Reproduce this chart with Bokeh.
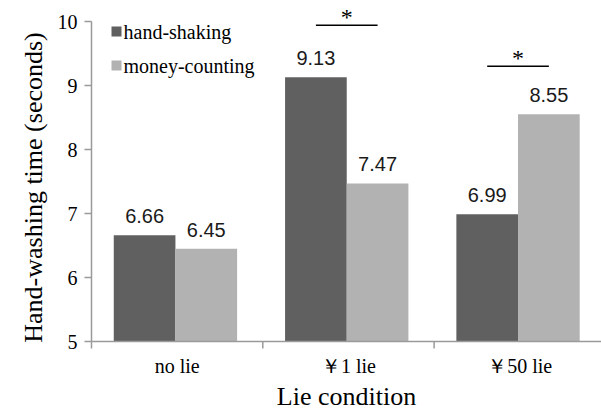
import math
from bokeh.plotting import figure
from bokeh.models import Range1d, ColumnDataSource, LabelSet, Label
from bokeh.embed import file_html
from bokeh.resources import INLINE
from bokeh.core.properties import value

# ---- data ----
conditions = ["no lie", "\uffe51 lie", "\uffe550 lie"]
hand_shaking = [6.66, 9.13, 6.99]
money_counting = [6.45, 7.47, 8.55]
series_names = ["hand-shaking", "money-counting"]
y_ticks = [5, 6, 7, 8, 9, 10]
significant_groups = [1, 2]          # indices of conditions marked with *
sig_marker = "*"
x_title = "Lie condition"
y_title = "Hand-washing time (seconds)"

# ---- styling / layout ----
DARK = "#606060"
LIGHT = "#b2b2b2"
AXIS = "#9a9a9a"
SERIF = "Liberation Serif"
SANS = "Liberation Sans"
BAR_W = 0.36
W, H = 601, 410
LEFT_PX, TOP_PX = 91, 21           # pixel position of the axes origin corner
PX_X, PX_Y = 171.3, 64.0            # pixels per category / per second
Y_MIN, Y_MAX = y_ticks[0], y_ticks[-1]
X0 = -LEFT_PX / PX_X
X1 = X0 + W / PX_X
Y1 = Y_MAX + TOP_PX / PX_Y
Y0 = Y1 - H / PX_Y


def px_x(px):
    return X0 + px / PX_X


def px_y(py):
    return Y1 - py / PX_Y


p = figure(width=W, height=H, x_range=Range1d(X0, X1), y_range=Range1d(Y0, Y1),
           output_backend="svg", toolbar_location=None,
           x_axis_type=None, y_axis_type=None, min_border=0)
p.outline_line_color = None
p.background_fill_color = "white"
p.border_fill_color = "white"

n = len(conditions)
idx = list(range(n))
src = ColumnDataSource(dict(
    xd=[i + 0.5 - BAR_W / 2 - 0.01 for i in idx],
    xl=[i + 0.5 + BAR_W / 2 - 0.01 for i in idx],
    hs=hand_shaking, mc=money_counting,
    hs_t=[f"{v:.2f}" for v in hand_shaking],
    mc_t=[f"{v:.2f}" for v in money_counting],
))

p.vbar(x="xd", top="hs", bottom=Y_MIN, width=BAR_W, source=src,
       fill_color=DARK, line_color=None)
p.vbar(x="xl", top="mc", bottom=Y_MIN, width=BAR_W, source=src,
       fill_color=LIGHT, line_color=None)

for xcol, tcol, ycol in [("xd", "hs_t", "hs"), ("xl", "mc_t", "mc")]:
    p.add_layout(LabelSet(x=xcol, y=ycol, text=tcol, source=src, y_offset=12,
                          text_align="center", text_baseline="alphabetic",
                          text_font=value(SANS), text_font_size="20px",
                          text_color="#1a1a1a"))

# significance markers (bracket lines above the compared pair)
sig_src = ColumnDataSource(dict(
    x0=[g + 0.49 - 0.18 for g in significant_groups],
    x1=[g + 0.49 + 0.18 for g in significant_groups],
    xm=[g + 0.49 for g in significant_groups],
    y=[9.94, 9.30],
    t=[sig_marker for g in significant_groups],
))
p.segment(x0="x0", x1="x1", y0="y", y1="y", source=sig_src, line_color="black", line_width=1.5)
p.add_layout(LabelSet(x="xm", y="y", text="t", source=sig_src, y_offset=8,
                      text_align="center", text_baseline="middle",
                      text_font=value(SERIF), text_font_size="24px",
                      text_color="black"))

# ---- axes drawn by hand ----
# axis lines
p.segment(x0=[0, 0], y0=[Y_MIN, Y_MIN], x1=[0, X1 + 1], y1=[Y_MAX, Y_MIN],
          line_color=AXIS, line_width=1.5)
# y ticks + labels
p.ray(x=[0] * len(y_ticks), y=y_ticks, length=7, length_units="screen", angle=math.pi,
      line_color=AXIS, line_width=1.5)
ysrc = ColumnDataSource(dict(x=[0] * len(y_ticks), y=y_ticks, t=[str(t) for t in y_ticks]))
p.add_layout(LabelSet(x="x", y="y", text="t", source=ysrc, x_offset=-14,
                      text_align="right", text_baseline="middle",
                      text_font=value(SERIF), text_font_size="20px", text_color="black"))
# x ticks at category boundaries + category labels
bounds = list(range(n + 1))
p.ray(x=bounds, y=[Y_MIN] * len(bounds), length=7, length_units="screen",
      angle=-math.pi / 2, line_color=AXIS, line_width=1.5)
xsrc = ColumnDataSource(dict(x=[i + 0.5 for i in idx], y=[Y_MIN] * n, t=conditions))
p.add_layout(LabelSet(x="x", y="y", text="t", source=xsrc, y_offset=-31,
                      text_align="center", text_baseline="alphabetic",
                      text_font=value(SERIF), text_font_size="20px", text_color="black"))
# axis titles
p.add_layout(Label(x=(0 + X1) / 2, y=Y_MIN, y_offset=-55, text=x_title,
                   text_align="center", text_baseline="alphabetic",
                   text_font=SERIF, text_font_size="26px", text_color="black"))
p.add_layout(Label(x=0, y=(Y_MIN + Y_MAX) / 2, x_offset=-58, y_offset=-6, text=y_title,
                   angle=math.pi / 2, text_align="center", text_baseline="alphabetic",
                   text_font=SERIF, text_font_size="26px", text_color="black"))

# ---- legend (top-left inside the plot) ----
leg_y = [px_y(31), px_y(65)]
p.scatter(x=[px_x(116)] * 2, y=leg_y, marker="square", size=10,
          fill_color=[DARK, LIGHT], line_color=None)
lsrc = ColumnDataSource(dict(x=[px_x(123)] * 2, y=leg_y, t=series_names))
p.add_layout(LabelSet(x="x", y="y", text="t", source=lsrc,
                      text_align="left", text_baseline="middle",
                      text_font=value(SERIF), text_font_size="20px", text_color="black"))

open("out.html", "w").write(file_html(p, INLINE))
